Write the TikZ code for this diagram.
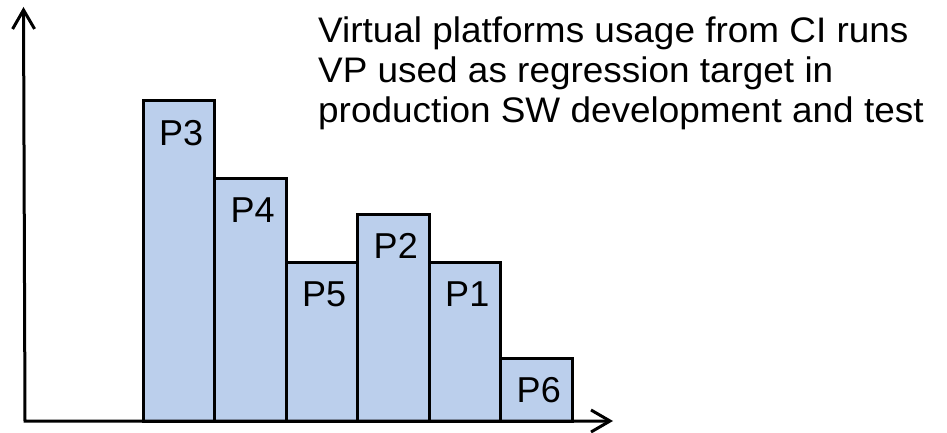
\documentclass[tikz,border=0pt]{standalone}
\usepackage{fontspec}
\setmainfont{Liberation Sans}
\newfontfamily\widesans[FakeStretch=1.04]{Liberation Sans}
\usetikzlibrary{arrows.meta}
\definecolor{barblue}{RGB}{187,207,236}
\tikzset{
  barbox/.style={draw=black, fill=barblue, line width=3pt, inner sep=0pt, outer sep=0pt,
    minimum width=71.5pt, anchor=south west},
  barlabel/.style={anchor=base, inner sep=0pt, font=\fontsize{36}{40}\selectfont},
  axisline/.style={line width=3pt, line join=miter,
    {Straight Barb[length=19pt,width=22pt]}-{Straight Barb[length=19pt,width=22pt]}},
  note/.style={anchor=base west, align=left, inner sep=0pt, font=\widesans\fontsize{35.5}{40}\selectfont}
}
\begin{document}
\begin{tikzpicture}[x=1pt,y=1pt]
\useasboundingbox (0,0) rectangle (947,432);
% bars (image y flipped: tikz y = 432 - image y); baseline at tikz y=11
\node[barbox, minimum height=320pt] (p3) at (143,11) {};
\node[barbox, minimum height=243pt] (p4) at (214.5,11) {};
\node[barbox, minimum height=159pt] (p5) at (286,11) {};
\node[barbox, minimum height=207pt] (p2) at (357.5,11) {};
\node[barbox, minimum height=159pt] (p1) at (429,11) {};
\node[barbox, minimum height=63pt] (p6) at (500.5,11) {};
% labels
\node[barlabel] (l3) at ([xshift=2.5pt,yshift=-44pt]p3.north) {P3};
\node[barlabel] (l4) at ([xshift=2.5pt,yshift=-44pt]p4.north) {P4};
\node[barlabel] (l5) at ([xshift=2.5pt,yshift=-44pt]p5.north) {P5};
\node[barlabel] (l2) at ([xshift=2.5pt,yshift=-44pt]p2.north) {P2};
\node[barlabel] (l1) at ([xshift=2.5pt,yshift=-44pt]p1.north) {P1};
\node[barlabel] (l6) at ([xshift=2.5pt,yshift=-44pt]p6.north) {P6};
% axes
\coordinate (ytop) at (23.5,425);
\coordinate (orig) at (25,11);
\coordinate (xend) at (613,11);
\draw[axisline] (ytop) -- (orig) -- (xend);
% note text (base west = baseline of last line)
\node[note] (txt) at (318,310) {Virtual platforms usage from CI runs\\VP used as regression target in\\production SW development and test};
\end{tikzpicture}
\end{document}
